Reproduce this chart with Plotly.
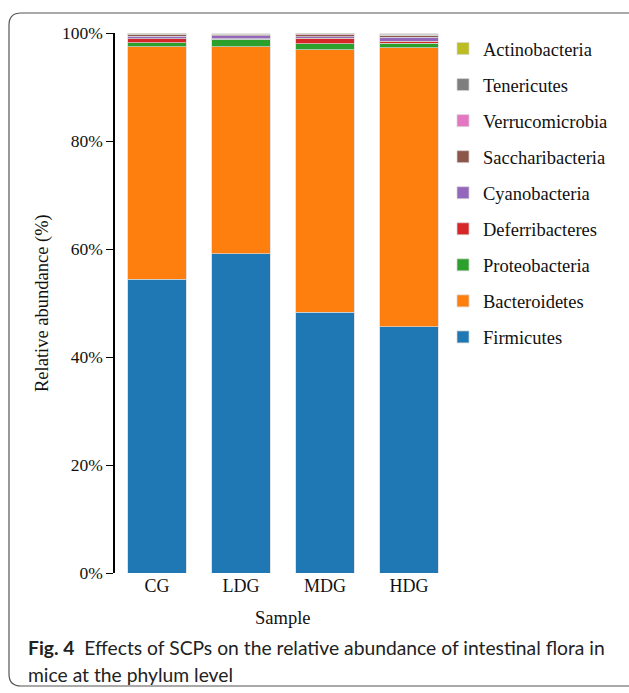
import plotly.graph_objects as go

samples = ["CG", "LDG", "MDG", "HDG"]
phyla = ["Firmicutes", "Bacteroidetes", "Proteobacteria", "Deferribacteres",
         "Cyanobacteria", "Saccharibacteria", "Verrucomicrobia", "Tenericutes",
         "Actinobacteria"]
firmicutes = [54.4, 59.1, 48.3, 45.6]
bacteroidetes = [43.1, 38.4, 48.6, 51.7]
proteobacteria = [0.7, 1.35, 1.1, 0.8]
deferribacteres = [0.75, 0.1, 1.05, 0.4]
cyanobacteria = [0.45, 0.5, 0.3, 0.75]
saccharibacteria = [0.4, 0.25, 0.3, 0.3]
verrucomicrobia = [0.05, 0.05, 0.2, 0.05]
tenericutes = [0.05, 0.05, 0.05, 0.2]
actinobacteria = [0.02, 0.02, 0.02, 0.02]
ytick_vals = [0, 20, 40, 60, 80, 100]
ytick_text = ["0%", "20%", "40%", "60%", "80%", "100%"]

series = [firmicutes, bacteroidetes, proteobacteria, deferribacteres, cyanobacteria,
          saccharibacteria, verrucomicrobia, tenericutes, actinobacteria]
colors = ["#1f77b4", "#ff7f0e", "#2ca02c", "#d62728", "#9467bd",
          "#8c564b", "#e377c2", "#7f7f7f", "#bcbd22"]

W, H = 629, 693
L, R, T, B = 115, 451, 33, 573


def px(x):
    return (x - L) / (R - L)


def py(y):
    return (B - y) / (B - T)


serif = "Liberation Serif, Times New Roman, serif"

fig = go.Figure()
n = len(phyla)
for i, (name, vals, col) in enumerate(zip(phyla, series, colors)):
    fig.add_trace(go.Bar(
        x=samples, y=vals, name=name, legendgroup=name, legendrank=1000 - i,
        marker=dict(color=col, line=dict(color="rgba(215,215,215,0.9)", width=0.8)),
        width=0.7,
    ))

fig.update_layout(
    width=W, height=H,
    barmode="stack",
    plot_bgcolor="white", paper_bgcolor="white",
    margin=dict(l=L, r=W - R, t=T, b=H - B, autoexpand=False),
    font=dict(family=serif, size=18, color="#111"),
    showlegend=True,
    legend=dict(
        traceorder="grouped", tracegroupgap=9,
        x=px(443), xanchor="left", y=py(30), yanchor="top",
        font=dict(family=serif, size=18.5, color="#111"),
        bgcolor="rgba(0,0,0,0)",
    ),
    xaxis=dict(
        range=[-0.5, 3.5], showline=False, ticks="", showgrid=False,
        tickfont=dict(size=18), zeroline=False,
    ),
    yaxis=dict(
        range=[0, 100], tickvals=ytick_vals, ticktext=ytick_text,
        showline=True, linecolor="black", linewidth=1.5,
        ticks="outside", ticklen=7, tickcolor="black", tickwidth=1.2,
        showgrid=False, zeroline=False, tickfont=dict(size=17.5),
    ),
)

# axis titles
fig.add_annotation(text="Relative abundance (%)", textangle=-90, xref="paper", yref="paper",
                   x=px(42), y=py(303), showarrow=False, xanchor="center", yanchor="middle",
                   font=dict(family=serif, size=18.5, color="#111"))
fig.add_annotation(text="Sample", xref="paper", yref="paper",
                   x=px(283), y=py(618), showarrow=False, xanchor="center", yanchor="middle",
                   font=dict(family=serif, size=18.5, color="#111"))

cap_font = dict(family="Lato, Roboto, sans-serif", size=19.3, color="#222")
fig.add_annotation(text="<b>Fig. 4</b>  Effects of SCPs on the relative abundance of intestinal flora in",
                   xref="paper", yref="paper", x=px(26), y=py(647), showarrow=False,
                   xanchor="left", yanchor="middle", font=cap_font)
fig.add_annotation(text="mice at the phylum level",
                   xref="paper", yref="paper", x=px(26), y=py(674), showarrow=False,
                   xanchor="left", yanchor="middle", font=cap_font)

# rounded frame
r = 12
x0, y0, y1, x1 = 9, 13, 686, 645
path = (f"M {px(x1)},{py(y0)} L {px(x0 + r)},{py(y0)} "
        f"Q {px(x0)},{py(y0)} {px(x0)},{py(y0 + r)} "
        f"L {px(x0)},{py(y1 - r)} "
        f"Q {px(x0)},{py(y1)} {px(x0 + r)},{py(y1)} "
        f"L {px(x1)},{py(y1)}")
fig.add_shape(type="path", path=path, xref="paper", yref="paper",
              line=dict(color="#555", width=1.2), layer="above")

fig.write_html("out.html", config={"displayModeBar": False},
               post_script="document.body.style.margin='0';document.body.style.overflow='hidden';")
